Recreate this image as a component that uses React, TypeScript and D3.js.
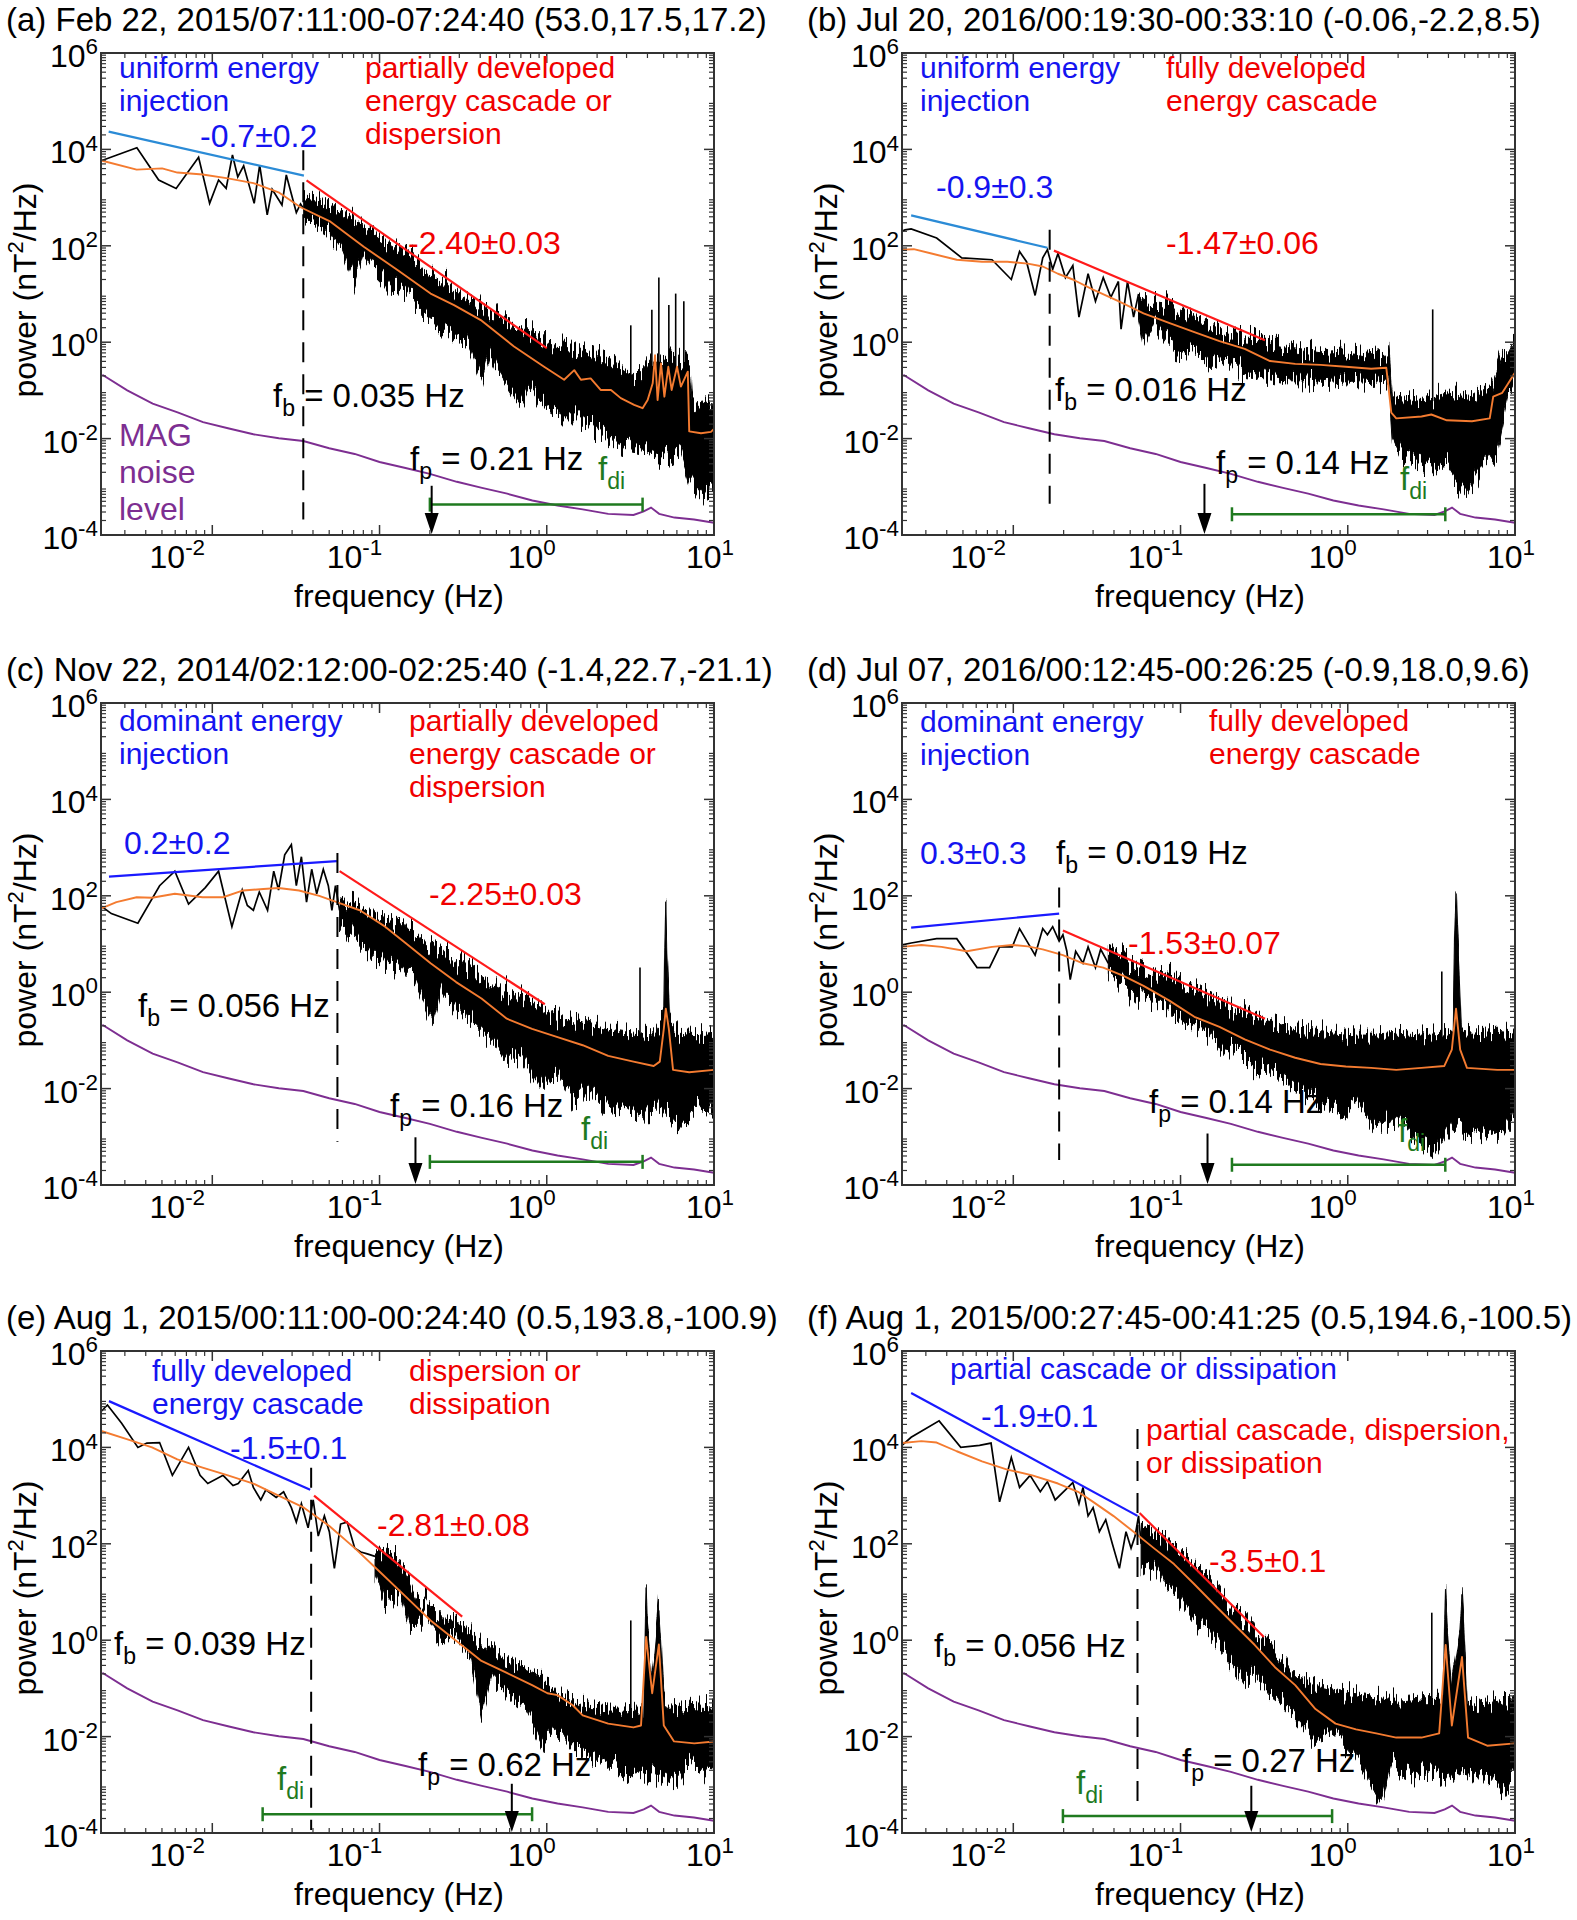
import React from 'react';
import * as d3 from 'd3';

type Pt = [number, number];
type Spike = [number, number, number];

// ---------------- axes ----------------
const freqDomain: [number, number] = [0.00216, 10];
const powerDomain: [number, number] = [1e-4, 1e6];
const xTickValues = [0.01, 0.1, 1, 10];
const xTickExponents = ['-2', '-1', '0', '1'];
const yTickValues = [1e-4, 1e-2, 1, 1e2, 1e4, 1e6];
const yTickExponents = ['-4', '-2', '0', '2', '4', '6'];

// ---------------- MAG noise level (shared) ----------------
const noiseLevel: Pt[] = [[0.0022,0.211],[0.0031,0.1],[0.0044,0.053],[0.0062,0.0349],[0.0088,0.0219],[0.0124,0.0164],[0.0176,0.0123],[0.025,0.0102],[0.035,0.0089],[0.05,0.0063],[0.071,0.0048],[0.1,0.00327],[0.143,0.00245],[0.2,0.00186],[0.29,0.00127],[0.41,0.00095],[0.58,0.00072],[0.82,0.00052],[1.16,0.00041],[1.64,0.00034],[2.33,0.000275],[3.3,0.00026],[3.8,0.00031],[4.2,0.00037],[4.7,0.000275],[5.8,0.00023],[7.6,0.00021],[10,0.00018]];

// ---------------- panel (a) ----------------
const aTitle = '(a) Feb 22, 2015/07:11:00-07:24:40 (53.0,17.5,17.2)';
const aBlack: Pt[] = [[0.00216,5900],[0.00223,6030],[0.00354,10800],[0.00478,2320],[0.00608,1550],[0.00828,6850],[0.00964,759],[0.0109,2320],[0.0121,1550],[0.0132,7660],[0.0142,2690],[0.0154,4570],[0.0178,759],[0.0192,4740],[0.0213,437],[0.0228,1480],[0.0261,701],[0.0277,2950],[0.0318,490],[0.0337,741],[0.0356,550]];
const aBandUp: Pt[] = [[0.0352,1050],[0.0444,891],[0.0641,437],[0.0883,214],[0.116,112],[0.16,58.9],[0.211,26.9],[0.292,12],[0.403,6.46],[0.582,2.45],[0.766,2.09],[1.01,0.955],[1.46,0.813],[2.01,0.501],[2.53,0.363],[3.33,0.191],[4.01,0.355],[5.01,0.447],[6.31,0.398],[7.16,0.355],[7.41,0.0537],[8.51,0.0631],[10,0.0537]];
const aBandLo: Pt[] = [[0.0352,398],[0.0509,182],[0.0598,81.3],[0.0701,19.5],[0.0794,79.4],[0.0925,31.6],[0.116,14.1],[0.147,10.2],[0.185,3.98],[0.254,1.78],[0.335,1.12],[0.412,0.166],[0.457,0.631],[0.507,0.263],[0.698,0.0457],[0.794,0.126],[0.92,0.0537],[1.21,0.0282],[1.6,0.0282],[2.01,0.0151],[2.53,0.00933],[3.18,0.00676],[4.01,0.00575],[5.28,0.00417],[6.34,0.00575],[7.28,0.00117],[8.36,0.00074],[10,0.001]];
const aSpikes: Spike[] = [[3.18,0.2,2.24],[4.25,0.3,4.7],[4.68,0.3,21.9],[5.37,0.3,5.9],[5.9,0.3,10.2],[6.6,0.3,7.1]];
const aOrange: Pt[] = [[0.00217,5890],[0.00353,3800],[0.00501,4030],[0.00618,3310],[0.00875,3020],[0.0124,2510],[0.0176,2000],[0.0249,1290],[0.0337,631],[0.0509,316],[0.0805,95.5],[0.128,31.6],[0.202,10.2],[0.279,5.89],[0.403,2.88],[0.637,0.813],[0.964,0.309],[1.27,0.166],[1.46,0.263],[1.6,0.166],[1.83,0.178],[2.1,0.102],[2.42,0.102],[2.77,0.0692],[3.33,0.0501],[3.74,0.0427],[4.01,0.0631],[4.3,0.141],[4.44,0.537],[4.6,0.0631],[4.82,0.363],[5.05,0.0741],[5.33,0.309],[5.58,0.102],[6.01,0.309],[6.34,0.12],[6.97,0.245],[7.11,0.0141],[8.36,0.0129],[9.59,0.0138],[10,0.0158]];
const aBlueFit: Pt[] = [[0.0024,23400],[0.0353,2860]];
const aRedFit: Pt[] = [[0.0366,2280],[1.0,0.753]];
const aBreak = 0.035; const aBreakSpan: Pt = [9550, 0.00021];
const aPeak = 0.205; const aPeakTop = 0.00105;
const aDi: Pt = [0.2, 3.74]; const aDiLevel = 0.000427;

// ---------------- panel (b) ----------------
const bTitle = '(b) Jul 20, 2016/00:19:30-00:33:10 (-0.06,-2.2,8.5)';
const bBlack: Pt[] = [[0.00216,200],[0.00225,214],[0.00245,224],[0.00348,145],[0.00492,56.2],[0.00746,51.3],[0.00973,20],[0.0109,75.9],[0.012,46.8],[0.0135,9.33],[0.015,56.2],[0.016,83.2],[0.0172,32.4],[0.0185,69.2],[0.0205,21.9],[0.0227,38.9],[0.0247,3.31],[0.028,26.3],[0.031,7.08],[0.0345,21.9],[0.0383,8.51],[0.0425,18.2],[0.0441,1.86],[0.0482,18.2],[0.0524,3.31],[0.0561,10]];
const bBandUp: Pt[] = [[0.0561,10],[0.0601,7.08],[0.0794,5.89],[0.098,4.79],[0.121,3.31],[0.159,2.24],[0.21,1.41],[0.278,1.29],[0.367,0.871],[0.485,0.724],[0.687,0.603],[0.973,0.661],[1.38,0.55],[1.76,0.603],[1.85,0.0741],[2.76,0.0617],[3.91,0.0891],[5.53,0.0741],[7.31,0.132],[8.39,0.501],[10,0.871]];
const bBandLo: Pt[] = [[0.0561,3],[0.0601,0.871],[0.0692,2.75],[0.0822,1.05],[0.098,0.501],[0.121,0.724],[0.149,0.339],[0.183,0.501],[0.242,0.214],[0.319,0.191],[0.422,0.158],[0.557,0.158],[0.736,0.145],[0.973,0.158],[1.38,0.145],[1.76,0.158],[1.85,0.0112],[2.09,0.00437],[2.58,0.00324],[3.18,0.00245],[3.91,0.00295],[5.16,0.000646],[6.37,0.00245],[7.83,0.00631],[9.02,0.0741],[10,0.158]];
const bSpikes: Spike[] = [[3.22,0.06,4.79]];
const bOrange: Pt[] = [[0.00216,83.2],[0.00254,85.1],[0.00324,69.2],[0.00459,51.3],[0.0065,46.8],[0.0092,46.8],[0.0122,42.7],[0.015,37.2],[0.0185,26.3],[0.0227,20],[0.03,12.3],[0.0425,7.08],[0.0601,3.98],[0.0853,2.51],[0.121,1.62],[0.171,1.05],[0.242,0.724],[0.343,0.407],[0.485,0.355],[0.687,0.339],[0.973,0.309],[1.38,0.282],[1.7,0.295],[1.82,0.0347],[1.95,0.0263],[2.76,0.0288],[3.16,0.0316],[3.91,0.024],[5.53,0.0229],[7.06,0.0263],[7.41,0.0741],[8.39,0.0891],[9.02,0.132],[10,0.234]];
const bBlueFit: Pt[] = [[0.00245,427],[0.016,91.2]];
const bRedFit: Pt[] = [[0.0175,79.4],[0.32,1.1]];
const bBreak = 0.0165; const bBreakSpan: Pt = [214, 0.000447];
const bPeak = 0.139; const bPeakTop = 0.00115;
const bDi: Pt = [0.203, 3.83]; const bDiLevel = 0.000269;

// ---------------- panel (c) ----------------
const cTitle = '(c) Nov 22, 2014/02:12:00-02:25:40 (-1.4,22.7,-21.1)';
const cBlack: Pt[] = [[0.00216,61.7],[0.00249,42.7],[0.00359,26.9],[0.00484,162],[0.00597,324],[0.00721,67.6],[0.00908,148],[0.0109,324],[0.0131,22.9],[0.0151,132],[0.0162,63.1],[0.0176,50.1],[0.0191,120],[0.0214,50.1],[0.0233,324],[0.0249,132],[0.0271,708],[0.0297,1150],[0.0318,162],[0.0341,646],[0.0366,74.1],[0.0393,355],[0.0421,110],[0.0461,355],[0.0494,162],[0.0519,50.1],[0.0545,162],[0.0577,50]];
const cBandUp: Pt[] = [[0.0577,91.2],[0.0711,74.1],[0.0875,50.1],[0.108,28.2],[0.133,33.9],[0.164,15.5],[0.217,7.08],[0.287,4.79],[0.379,2.69],[0.501,1.35],[0.662,0.832],[0.875,0.562],[1.16,0.309],[1.64,0.229],[2.33,0.174],[3.3,0.141],[4.36,0.129],[5.01,0.316],[5.08,7.94],[5.15,91.2],[5.22,10],[5.3,3.16],[5.43,0.251],[6.18,0.141],[8.17,0.129],[10,0.141]];
const cBandLo: Pt[] = [[0.0577,28.2],[0.0711,15.5],[0.0875,7.08],[0.108,3.24],[0.133,3.98],[0.164,1.82],[0.209,0.229],[0.233,1],[0.287,0.457],[0.379,0.209],[0.501,0.0794],[0.577,0.0363],[0.711,0.0537],[0.94,0.00912],[1.16,0.02],[1.43,0.00513],[1.76,0.0112],[2.33,0.00347],[3.08,0.00417],[3.79,0.00234],[4.68,0.00513],[6.18,0.00174],[8.17,0.00417],[10,0.00257]];
const cSpikes: Spike[] = [[3.61,0.1,3.24]];
const cOrange: Pt[] = [[0.00217,55],[0.00267,74.1],[0.00353,93.3],[0.00436,91.2],[0.00597,110],[0.00875,93.3],[0.0116,93.3],[0.0153,129],[0.0202,138],[0.0249,145],[0.033,129],[0.0436,100],[0.0577,70.8],[0.0762,50.1],[0.108,22.9],[0.143,10.5],[0.202,3.98],[0.287,1.62],[0.407,0.741],[0.577,0.282],[0.817,0.174],[1.16,0.117],[1.64,0.0794],[2.33,0.0479],[3.3,0.0363],[4.36,0.0295],[4.74,0.0363],[5.01,0.174],[5.15,0.457],[5.37,0.174],[5.69,0.0245],[7.11,0.0219],[10,0.0245]];
const cBlueFit: Pt[] = [[0.00241,251],[0.0556,525]];
const cRedFit: Pt[] = [[0.0577,324],[0.973,0.562]];
const cBreak = 0.056; const cBreakSpan: Pt = [776, 0.000794];
const cPeak = 0.164; const cPeakTop = 0.000977;
const cDi: Pt = [0.2, 3.74]; const cDiLevel = 0.000302;

// ---------------- panel (d) ----------------
const dTitle = '(d) Jul 07, 2016/00:12:45-00:26:25 (-0.9,18.0,9.6)';
const dBlack: Pt[] = [[0.00216,9.55],[0.00245,10.5],[0.00348,12.9],[0.00459,12.9],[0.00607,3.24],[0.00721,3.24],[0.00828,8.71],[0.00986,8.71],[0.0109,20.9],[0.0135,5.89],[0.015,20.9],[0.016,15.5],[0.0172,22.9],[0.0188,11.5],[0.0198,15.5],[0.0209,7.08],[0.0219,1.82],[0.0236,7.08],[0.0261,3.98],[0.028,8.71],[0.031,3.24],[0.0333,7.76],[0.037,3.98]];
const dBandUp: Pt[] = [[0.037,7.08],[0.0456,5.25],[0.0561,3.24],[0.0692,2.4],[0.0914,2.19],[0.121,1.23],[0.159,0.741],[0.21,0.457],[0.278,0.309],[0.367,0.229],[0.485,0.174],[0.641,0.155],[0.845,0.141],[1.12,0.129],[1.48,0.129],[1.95,0.141],[2.76,0.129],[3.65,0.141],[4.27,0.158],[4.35,15.5],[4.44,135],[4.53,15.5],[4.62,3.98],[4.79,0.158],[5.53,0.141],[7.83,0.155],[10,0.141]];
const dBandLo: Pt[] = [[0.037,2.19],[0.0456,1.23],[0.0561,0.676],[0.0601,1],[0.0741,0.676],[0.0914,0.309],[0.121,0.209],[0.149,0.141],[0.181,0.0537],[0.21,0.0794],[0.278,0.0295],[0.367,0.02],[0.485,0.00912],[0.641,0.00617],[0.845,0.00347],[1.12,0.00513],[1.48,0.00129],[1.95,0.00282],[2.58,0.000871],[3.4,0.00049],[4.19,0.00191],[5.53,0.000871],[7.83,0.00129],[10,0.00282]];
const dSpikes: Spike[] = [[3.65,0.1,2.69]];
const dOrange: Pt[] = [[0.00216,8.71],[0.00282,9.55],[0.00372,8.71],[0.00527,7.08],[0.00746,8.71],[0.00986,9.55],[0.0122,8.91],[0.015,7.76],[0.0198,5.89],[0.0261,3.98],[0.0345,3.24],[0.0456,2.19],[0.0601,1.35],[0.0853,0.676],[0.121,0.309],[0.171,0.191],[0.242,0.105],[0.343,0.0646],[0.485,0.0437],[0.687,0.0324],[0.973,0.0288],[1.38,0.0269],[1.95,0.0245],[2.76,0.0269],[3.78,0.0295],[4.19,0.0646],[4.44,0.457],[4.7,0.0646],[5.16,0.0269],[7.83,0.0245],[10,0.0245]];
const dBlueFit: Pt[] = [[0.00245,21.9],[0.0188,42.7]];
const dRedFit: Pt[] = [[0.0198,19.1],[0.32,0.282]];
const dBreak = 0.0188; const dBreakSpan: Pt = [148, 0.000331];
const dPeak = 0.145; const dPeakTop = 0.00117;
const dDi: Pt = [0.203, 3.83]; const dDiLevel = 0.000263;

// ---------------- panel (e) ----------------
const eTitle = '(e) Aug 1, 2015/00:11:00-00:24:40 (0.5,193.8,-100.9)';
const eBlack: Pt[] = [[0.00217,56200],[0.00236,75900],[0.00287,31600],[0.00359,10000],[0.00406,12300],[0.00484,12600],[0.00577,2630],[0.00721,10000],[0.00845,2630],[0.0094,1780],[0.0116,2630],[0.0133,1620],[0.0143,1780],[0.0164,3310],[0.0176,1480],[0.0195,813],[0.0209,1320],[0.0241,912],[0.0267,1200],[0.0297,562],[0.0318,282],[0.0341,676],[0.0374,214],[0.0401,813],[0.043,145],[0.0468,380],[0.0501,178],[0.0537,30.9],[0.0585,257],[0.064,282],[0.0711,81.3],[0.0773,67.6],[0.0845,61.7],[0.094,55]];
const eBandUp: Pt[] = [[0.094,74.1],[0.108,81.3],[0.124,55],[0.143,25.7],[0.164,8.13],[0.202,5.5],[0.249,2.57],[0.308,2.09],[0.379,1.17],[0.501,0.55],[0.662,0.309],[0.875,0.209],[1.16,0.0794],[1.64,0.0447],[2.33,0.0372],[2.87,0.0372],[3.8,0.0398],[3.89,3.16],[3.93,9.77],[3.98,2],[4.27,0.158],[4.57,2],[4.68,5.5],[4.79,1.58],[5.01,0.0631],[5.37,0.0407],[7.11,0.0447],[10,0.0407]];
const eBandLo: Pt[] = [[0.094,25.7],[0.108,5.5],[0.133,9.77],[0.153,1.74],[0.189,3.72],[0.233,0.977],[0.287,1.17],[0.354,0.372],[0.407,0.0275],[0.468,0.174],[0.577,0.0794],[0.762,0.0372],[0.973,0.00646],[1.16,0.0141],[1.64,0.00447],[2.33,0.00251],[3.08,0.0017],[3.79,0.00204],[4.68,0.0017],[5.77,0.00115],[7.11,0.00251],[8.77,0.0017],[10,0.00251]];
const eSpikes: Spike[] = [[3.18,0.03,2.57]];
const eOrange: Pt[] = [[0.00217,21900],[0.00308,14800],[0.00436,10000],[0.00618,5620],[0.00875,3800],[0.0124,2630],[0.0176,1780],[0.0249,1000],[0.0353,562],[0.0501,234],[0.0711,81.3],[0.101,25.7],[0.143,8.13],[0.202,2.57],[0.287,0.977],[0.407,0.372],[0.577,0.209],[0.817,0.117],[1.01,0.0794],[1.16,0.0724],[1.43,0.0447],[1.64,0.0275],[2.33,0.0186],[3.3,0.0155],[3.66,0.017],[3.93,1.17],[4.27,0.0794],[4.68,0.813],[5.01,0.017],[5.77,0.00794],[7.62,0.00724],[10,0.00794]];
const eBlueFit: Pt[] = [[0.00241,91200],[0.0385,1320]];
const eRedFit: Pt[] = [[0.0406,1000],[0.312,3.09]];
const eBreak = 0.039; const eBreakSpan: Pt = [3800, 0.000115];
const ePeak = 0.618; const ePeakTop = 0.00105;
const eDi: Pt = [0.02, 0.817]; const eDiLevel = 0.000245;

// ---------------- panel (f) ----------------
const fTitle = '(f) Aug 1, 2015/00:27:45-00:41:25 (0.5,194.6,-100.5)';
const fBlack: Pt[] = [[0.00216,11000],[0.00245,16200],[0.0036,35500],[0.00485,10000],[0.00628,11000],[0.00736,12300],[0.00828,741],[0.00973,6170],[0.0109,1480],[0.0126,2630],[0.0145,1200],[0.016,1950],[0.0178,813],[0.0205,1320],[0.0227,1860],[0.0247,676],[0.0261,1480],[0.028,380],[0.03,562],[0.0327,178],[0.0357,316],[0.0391,100],[0.0431,30.9],[0.0472,178],[0.0506,81.3],[0.0535,145],[0.0561,380],[0.0581,100]];
const fBandUp: Pt[] = [[0.0581,257],[0.0692,178],[0.0822,120],[0.098,67.6],[0.121,38],[0.149,17.4],[0.183,6.61],[0.225,3.09],[0.278,1.45],[0.343,0.794],[0.422,0.309],[0.52,0.155],[0.687,0.107],[0.973,0.0794],[1.38,0.0661],[1.95,0.0537],[2.76,0.0603],[3.72,0.0631],[3.8,2],[3.85,12],[3.94,2],[4.17,0.126],[4.68,1.58],[4.82,8.13],[4.95,1.58],[5.19,0.0501],[5.53,0.0447],[7.83,0.0537],[10,0.0661]];
const fBandLo: Pt[] = [[0.0581,25.7],[0.0692,38],[0.0822,12],[0.098,8.13],[0.121,2.57],[0.149,1.45],[0.183,0.55],[0.242,0.129],[0.278,0.209],[0.343,0.0794],[0.422,0.0447],[0.557,0.017],[0.641,0.0087],[0.845,0.0115],[1.12,0.00363],[1.58,0.000363],[1.82,0.00251],[2.4,0.0017],[2.96,0.00204],[3.91,0.00115],[5.16,0.0017],[6.82,0.00141],[8.39,0.000776],[10,0.0017]];
const fSpikes: Spike[] = [[3.18,0.05,3.72]];
const fOrange: Pt[] = [[0.00216,12300],[0.00282,13500],[0.00348,12600],[0.00459,8320],[0.0065,5130],[0.0092,3470],[0.013,2630],[0.0185,1780],[0.0244,1200],[0.03,741],[0.0396,380],[0.0524,178],[0.0692,81.3],[0.0914,38],[0.121,14.5],[0.159,5.5],[0.21,2.09],[0.278,0.794],[0.367,0.275],[0.485,0.117],[0.641,0.0372],[0.845,0.0186],[1.12,0.0141],[1.48,0.0117],[1.95,0.00955],[2.76,0.00955],[3.52,0.0117],[3.85,0.794],[4.19,0.017],[4.82,0.447],[5.24,0.00955],[6.82,0.00646],[10,0.00724]];
const fBlueFit: Pt[] = [[0.00245,135000],[0.0553,380]];
const fRedFit: Pt[] = [[0.0569,437],[0.315,1.17]];
const fBreak = 0.0553; const fBreakSpan: Pt = [24000, 0.000331];
const fPeak = 0.265; const fPeakTop = 0.000955;
const fDi: Pt = [0.0198, 0.806]; const fDiLevel = 0.000224;

// ---------------- annotation texts ----------------
const leftRegime = [
  ['uniform energy', 'injection'],
  ['uniform energy', 'injection'],
  ['dominant energy', 'injection'],
  ['dominant energy', 'injection'],
  ['fully developed', 'energy cascade'],
  ['partial cascade or dissipation'],
];
const rightRegime = [
  ['partially developed', 'energy cascade or', 'dispersion'],
  ['fully developed', 'energy cascade'],
  ['partially developed', 'energy cascade or', 'dispersion'],
  ['fully developed', 'energy cascade'],
  ['dispersion or', 'dissipation'],
  ['partial cascade, dispersion,', 'or dissipation'],
];
const lowSlopes = ['-0.7±0.2', '-0.9±0.3', '0.2±0.2', '0.3±0.3', '-1.5±0.1', '-1.9±0.1'];
const highSlopes = ['-2.40±0.03', '-1.47±0.06', '-2.25±0.03', '-1.53±0.07', '-2.81±0.08', '-3.5±0.1'];
const breakLabels = ['0.035', '0.016', '0.056', '0.019', '0.039', '0.056'];
const peakLabels = ['0.21', '0.14', '0.16', '0.14', '0.62', '0.27'];
const noiseWords = ['MAG', 'noise', 'level'];

// ---------------- layout ----------------
const PW = 613;
const PH = 482;
const FONT = "'Liberation Sans', Arial, Helvetica, sans-serif";
const origins: Pt[] = [[101, 53], [902, 53], [101, 703], [902, 703], [101, 1351], [902, 1351]];
const layouts = [
  { left: [18, 25], right: [264, 25], sLow: [99, 94], sHigh: [307, 201], fb: [172, 354], fp: [309, 417], fdi: [497, 427], noise: [18, 393] },
  { left: [18, 25], right: [264, 25], sLow: [34, 145], sHigh: [264, 201], fb: [153, 348], fp: [314, 421], fdi: [498, 437] },
  { left: [18, 28], right: [308, 28], sLow: [23, 151], sHigh: [328, 202], fb: [37, 314], fp: [289, 414], fdi: [480, 437] },
  { left: [18, 29], right: [307, 28], sLow: [18, 161], sHigh: [226, 251], fb: [154, 161], fp: [247, 410], fdi: [496, 439] },
  { left: [51, 30], right: [308, 30], sLow: [129, 108], sHigh: [276, 185], fb: [13, 304], fp: [317, 425], fdi: [176, 439] },
  { left: [48, 28], right: [244, 89], sLow: [79, 76], sHigh: [307, 221], fb: [32, 306], fp: [280, 421], fdi: [174, 443] },
];
const fitBlueColors = ['#2b8bd6', '#2b8bd6', '#1a1aff', '#1a1aff', '#1a1aff', '#1a1aff'];
const xLabelShift = [-35, -25, -15, -4];

const panelData = [
  { title: aTitle, black: aBlack, up: aBandUp, lo: aBandLo, spikes: aSpikes, orange: aOrange, blue: aBlueFit, red: aRedFit, fb: aBreak, fbSpan: aBreakSpan, fp: aPeak, fpTop: aPeakTop, di: aDi, diLevel: aDiLevel },
  { title: bTitle, black: bBlack, up: bBandUp, lo: bBandLo, spikes: bSpikes, orange: bOrange, blue: bBlueFit, red: bRedFit, fb: bBreak, fbSpan: bBreakSpan, fp: bPeak, fpTop: bPeakTop, di: bDi, diLevel: bDiLevel },
  { title: cTitle, black: cBlack, up: cBandUp, lo: cBandLo, spikes: cSpikes, orange: cOrange, blue: cBlueFit, red: cRedFit, fb: cBreak, fbSpan: cBreakSpan, fp: cPeak, fpTop: cPeakTop, di: cDi, diLevel: cDiLevel },
  { title: dTitle, black: dBlack, up: dBandUp, lo: dBandLo, spikes: dSpikes, orange: dOrange, blue: dBlueFit, red: dRedFit, fb: dBreak, fbSpan: dBreakSpan, fp: dPeak, fpTop: dPeakTop, di: dDi, diLevel: dDiLevel },
  { title: eTitle, black: eBlack, up: eBandUp, lo: eBandLo, spikes: eSpikes, orange: eOrange, blue: eBlueFit, red: eRedFit, fb: eBreak, fbSpan: eBreakSpan, fp: ePeak, fpTop: ePeakTop, di: eDi, diLevel: eDiLevel },
  { title: fTitle, black: fBlack, up: fBandUp, lo: fBandLo, spikes: fSpikes, orange: fOrange, blue: fBlueFit, red: fRedFit, fb: fBreak, fbSpan: fBreakSpan, fp: fPeak, fpTop: fPeakTop, di: fDi, diLevel: fDiLevel },
];

type Part = [string, number?];
function Rich({ x, y, size, color, parts, anchor }: { x: number; y: number; size: number; color: string; parts: Part[]; anchor?: string }) {
  let shift = 0;
  const spans = parts.map((p, i) => {
    const kind = p[1] || 0;
    const target = kind === 1 ? size * 0.28 : kind === 2 ? -size * 0.4 : 0;
    const dy = target - shift;
    shift = target;
    return (
      <tspan key={i} dy={dy} fontSize={kind ? size * 0.7 : size}>{p[0]}</tspan>
    );
  });
  return (
    <text x={x} y={y} fill={color} fontSize={size} textAnchor={anchor || 'start'} fontFamily={FONT}>{spans}</text>
  );
}

function Panel({ idx }: { idx: number }) {
  const p = panelData[idx];
  const L = layouts[idx];
  const [ox, oy] = origins[idx];
  const x = d3.scaleLog().domain(freqDomain).range([0, PW]);
  const y = d3.scaleLog().domain(powerDomain).range([PH, 0]);
  const line = d3.line<Pt>().x((d) => x(d[0])).y((d) => y(d[1]));
  const bandPath = (line([...p.up, ...p.lo.slice().reverse()]) || '') + 'Z';
  const clipId = `clip-${idx}`;
  const texId = `tex-${idx}`;

  const minorX: number[] = [];
  for (let e = -3; e <= 0; e++) for (let k = 2; k <= 9; k++) { const v = k * Math.pow(10, e); if (v > freqDomain[0] && v < freqDomain[1]) minorX.push(v); }
  const minorY: number[] = [];
  for (let e = -4; e <= 5; e++) for (let k = 2; k <= 9; k++) minorY.push(k * Math.pow(10, e));

  const axisColor = '#333';
  const headH = 22, headW = 14;
  const xp = x(p.fp);
  const lh = 33;

  return (
    <g transform={`translate(${ox},${oy})`}>
      <defs>
        <clipPath id={clipId}><rect x={0} y={0} width={PW} height={PH} /></clipPath>
        {/* visual texture: jagged vertical edges for the dense spectral band */}
        <filter id={texId} x="-5%" y="-20%" width="110%" height="140%" filterUnits="objectBoundingBox">
          <feTurbulence type="fractalNoise" baseFrequency="0.45 0.006" numOctaves={2} seed={idx + 2} result="t" />
          <feColorMatrix in="t" type="matrix" values="1.6 0 0 0 -0.3  0 0 0 0 0.5  0 0 0 0 0  0 0 0 0 1" result="m" />
          <feDisplacementMap in="SourceGraphic" in2="m" scale={30} xChannelSelector="G" yChannelSelector="R" />
        </filter>
      </defs>
      <text x={-95} y={-22} fontSize={33} fontFamily={FONT} fill="#000">{p.title}</text>

      <g clipPath={`url(#${clipId})`}>
        <g filter={`url(#${texId})`}>
          <path d={bandPath} fill="#000" stroke="#000" strokeWidth={1} strokeLinejoin="round" />
        </g>
        <path d={line(p.black) || ''} fill="none" stroke="#000" strokeWidth={1.7} />
        {p.spikes.map((s, i) => (
          <line key={i} x1={x(s[0])} x2={x(s[0])} y1={y(s[1])} y2={y(s[2])} stroke="#000" strokeWidth={1.6} />
        ))}
        <path d={line(p.orange) || ''} fill="none" stroke="#f47b30" strokeWidth={1.9} strokeLinejoin="round" />
        <path d={line(noiseLevel) || ''} fill="none" stroke="#7d2e91" strokeWidth={1.9} />
        <path d={line(p.blue) || ''} fill="none" stroke={fitBlueColors[idx]} strokeWidth={2.2} />
        <path d={line(p.red) || ''} fill="none" stroke="#ff1a1a" strokeWidth={2.2} />
        <line x1={x(p.fb)} x2={x(p.fb)} y1={y(p.fbSpan[0])} y2={y(p.fbSpan[1])} stroke="#000" strokeWidth={2} strokeDasharray="20 12" />
        <line x1={x(p.di[0])} x2={x(p.di[1])} y1={y(p.diLevel)} y2={y(p.diLevel)} stroke="#1f7a1f" strokeWidth={2.5} />
        <line x1={x(p.di[0])} x2={x(p.di[0])} y1={y(p.diLevel) - 7} y2={y(p.diLevel) + 7} stroke="#1f7a1f" strokeWidth={2.5} />
        <line x1={x(p.di[1])} x2={x(p.di[1])} y1={y(p.diLevel) - 7} y2={y(p.diLevel) + 7} stroke="#1f7a1f" strokeWidth={2.5} />
        <line x1={xp} x2={xp} y1={y(p.fpTop)} y2={PH - headH} stroke="#000" strokeWidth={2} />
        <path d={`M${xp - headW / 2},${PH - headH}L${xp + headW / 2},${PH - headH}L${xp},${PH - 1}Z`} fill="#000" />
      </g>

      {/* axes box and ticks */}
      <rect x={0} y={0} width={PW} height={PH} fill="none" stroke={axisColor} strokeWidth={2} />
      {xTickValues.map((v) => (
        <g key={`xt${v}`}>
          <line x1={x(v)} x2={x(v)} y1={PH} y2={PH - 10} stroke={axisColor} strokeWidth={1.5} />
          <line x1={x(v)} x2={x(v)} y1={0} y2={10} stroke={axisColor} strokeWidth={1.5} />
        </g>
      ))}
      {minorX.map((v) => (
        <g key={`xm${v}`}>
          <line x1={x(v)} x2={x(v)} y1={PH} y2={PH - 5} stroke={axisColor} strokeWidth={1.2} />
          <line x1={x(v)} x2={x(v)} y1={0} y2={5} stroke={axisColor} strokeWidth={1.2} />
        </g>
      ))}
      {yTickValues.map((v) => (
        <g key={`yt${v}`}>
          <line x1={0} x2={10} y1={y(v)} y2={y(v)} stroke={axisColor} strokeWidth={1.5} />
          <line x1={PW} x2={PW - 10} y1={y(v)} y2={y(v)} stroke={axisColor} strokeWidth={1.5} />
        </g>
      ))}
      {minorY.map((v) => (
        <g key={`ym${v}`}>
          <line x1={0} x2={5} y1={y(v)} y2={y(v)} stroke={axisColor} strokeWidth={1.2} />
          <line x1={PW} x2={PW - 5} y1={y(v)} y2={y(v)} stroke={axisColor} strokeWidth={1.2} />
        </g>
      ))}
      {xTickValues.map((v, i) => (
        <Rich key={`xl${v}`} x={x(v) + xLabelShift[i]} y={PH + 33} size={32} color="#000" anchor="middle" parts={[['10'], [xTickExponents[i], 2]]} />
      ))}
      {yTickValues.map((v, i) => (
        <Rich key={`yl${v}`} x={-3} y={y(v) + 14} size={32} color="#000" anchor="end" parts={[['10'], [yTickExponents[i], 2]]} />
      ))}
      <text x={298} y={PH + 72} fontSize={32} textAnchor="middle" fontFamily={FONT}>frequency (Hz)</text>
      <text transform={`translate(-65,${237}) rotate(-90)`} fontSize={32} textAnchor="middle" fontFamily={FONT}>
        power (nT<tspan dy={-13} fontSize={22}>2</tspan><tspan dy={13}>/Hz)</tspan>
      </text>

      {/* annotations */}
      {leftRegime[idx].map((t, i) => (
        <text key={`lr${i}`} x={L.left[0]} y={L.left[1] + i * lh} fontSize={30} fill="#1414f0" fontFamily={FONT}>{t}</text>
      ))}
      {rightRegime[idx].map((t, i) => (
        <text key={`rr${i}`} x={L.right[0]} y={L.right[1] + i * lh} fontSize={30} fill="#f00000" fontFamily={FONT}>{t}</text>
      ))}
      <text x={L.sLow[0]} y={L.sLow[1]} fontSize={32} fill="#1414f0" fontFamily={FONT}>{lowSlopes[idx]}</text>
      <text x={L.sHigh[0]} y={L.sHigh[1]} fontSize={32} fill="#f00000" fontFamily={FONT}>{highSlopes[idx]}</text>
      <Rich x={L.fb[0]} y={L.fb[1]} size={33} color="#000" parts={[['f'], ['b', 1], [` = ${breakLabels[idx]} Hz`]]} />
      <Rich x={L.fp[0]} y={L.fp[1]} size={33} color="#000" parts={[['f'], ['p', 1], [` = ${peakLabels[idx]} Hz`]]} />
      <Rich x={L.fdi[0]} y={L.fdi[1]} size={33} color="#1f7a1f" parts={[['f'], ['di', 1]]} />
      {L.noise && noiseWords.map((t, i) => (
        <text key={`nw${i}`} x={L.noise[0]} y={L.noise[1] + i * 37} fontSize={32} fill="#7d2e91" fontFamily={FONT}>{t}</text>
      ))}
    </g>
  );
}

export default function App() {
  return (
    <svg width={1577} height={1920} viewBox="0 0 1577 1920" style={{ position: 'absolute', left: 0, top: 0, display: 'block' }}>
      <rect x={0} y={0} width={1577} height={1920} fill="#fff" />
      {panelData.map((_, i) => <Panel key={i} idx={i} />)}
    </svg>
  );
}
